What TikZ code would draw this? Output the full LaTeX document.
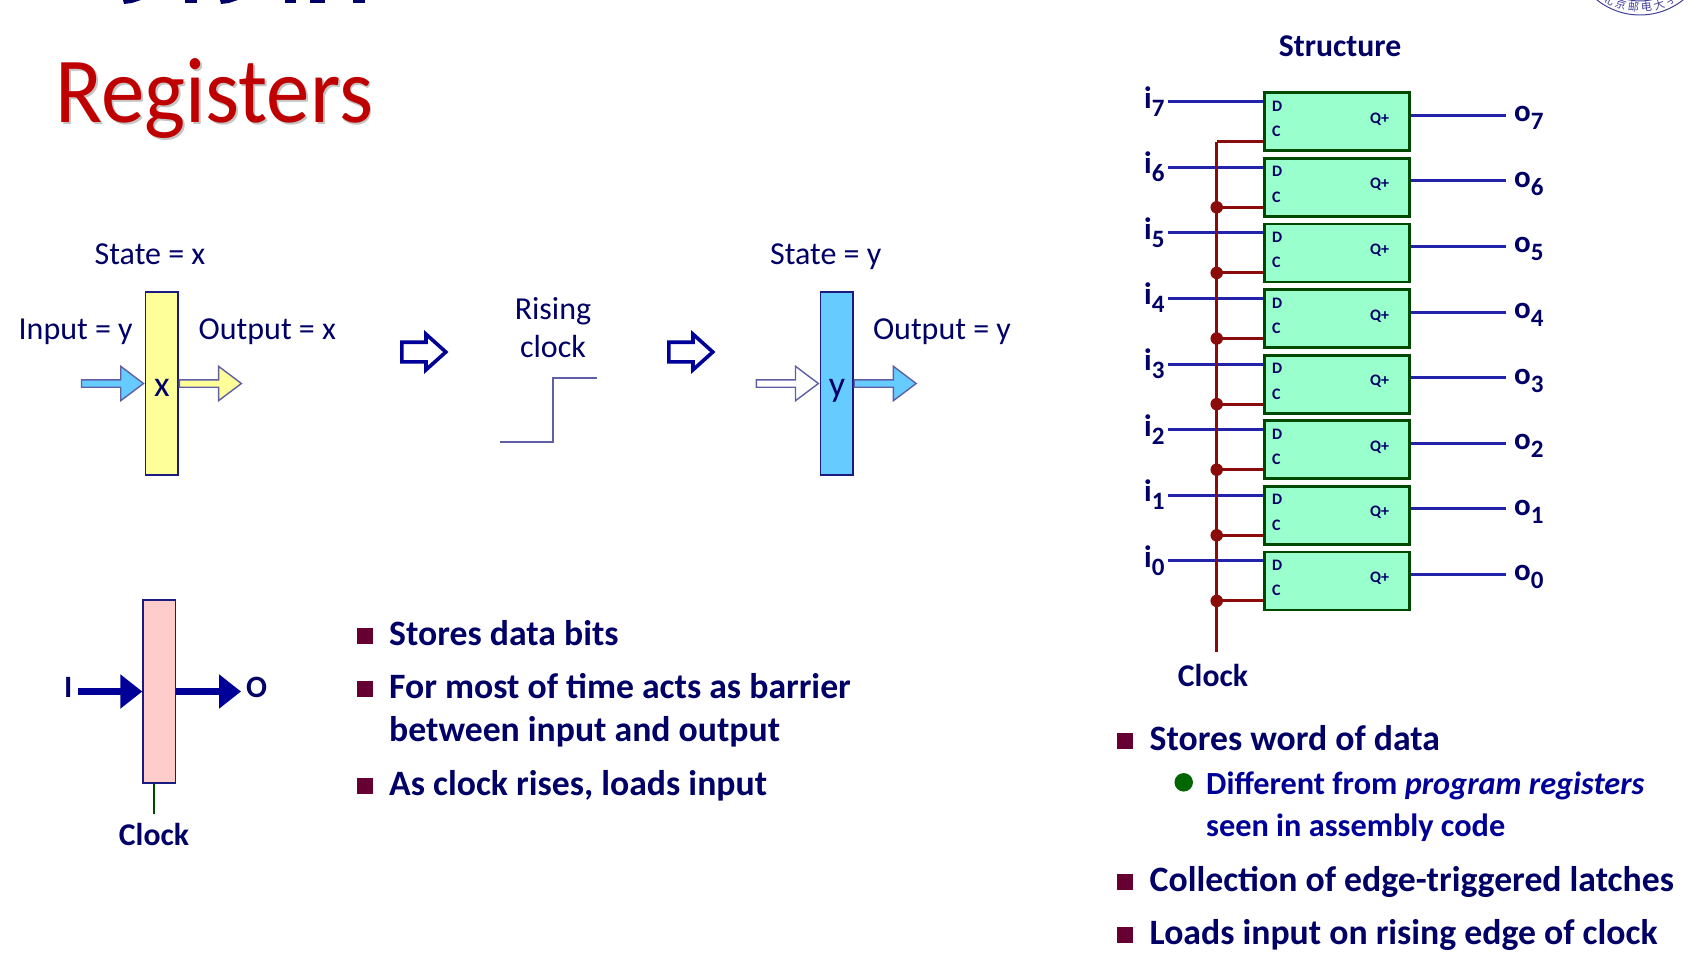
\documentclass[tikz,border=0pt]{standalone}
\usepackage{fontspec}
\setmainfont{Carlito}
\newfontfamily\logofont{Noto Sans CJK SC}
\usetikzlibrary{positioning,shapes.arrows,arrows.meta}
\definecolor{inknavy}{HTML}{000066}
\definecolor{inkblue}{HTML}{000099}
\definecolor{wireblue}{HTML}{2222AA}
\definecolor{barborder}{HTML}{1A1A80}
\definecolor{clockred}{HTML}{8B0A0A}
\definecolor{bulletred}{HTML}{660033}
\definecolor{regfill}{HTML}{99FFCC}
\definecolor{barblue}{HTML}{66CCFF}
\definecolor{baryellow}{HTML}{FFFF99}
\definecolor{barpink}{HTML}{FFCCCC}
\newcommand{\portname}[2]{#1\raisebox{-8pt}{\fontsize{25}{25}\selectfont #2}}

\begin{document}
\begin{tikzpicture}[
  x=1pt, y=-1pt,
  lab/.style={inner sep=0pt, anchor=base, text=inknavy, font=\fontsize{32}{38}\selectfont, align=center},
  hd/.style={inner sep=0pt, anchor=base, text=inknavy, font=\fontsize{31.7}{38}\selectfont\bfseries},
  port/.style={inner sep=0pt, anchor=base west, text=inknavy, font=\fontsize{31}{31}\selectfont\bfseries},
  pin/.style={inner sep=0pt, anchor=base west, text=inknavy, font=\fontsize{16}{16}\selectfont\bfseries},
  item/.style={inner sep=0pt, anchor=base west, text=inknavy, align=left, font=\fontsize{35.7}{43}\selectfont\bfseries},
  subitem/.style={inner sep=0pt, anchor=base west, text=inkblue, align=left, font=\fontsize{32.3}{42}\selectfont\bfseries},
  sq/.style={draw=none, fill=bulletred, minimum size=16pt, inner sep=0pt, anchor=south west},
  bar/.style={draw=barborder, line width=1.5pt, minimum width=32.5pt, minimum height=183pt, inner sep=0pt},
  reg/.style={draw=black!30!green!40!black, fill=regfill, line width=2.8pt, minimum width=145pt, minimum height=58pt, inner sep=0pt},
  dataline/.style={draw=wireblue, line width=3pt},
  clockline/.style={draw=clockred, line width=3pt},
  bitarrow/.style={single arrow, draw=barborder!70, line width=1.4pt, inner sep=3pt, minimum height=62pt,
    minimum width=33pt, single arrow head extend=13.5pt, single arrow tip angle=74},
  stepover/.style={single arrow, draw=inkblue, fill=white, line width=3.6pt, inner sep=8pt, minimum height=44pt,
    minimum width=32pt, single arrow head extend=8pt, single arrow tip angle=84, anchor=tail},
  fatarrow/.style={draw=inkblue, line width=6.5pt, -{Triangle[length=22pt,width=33pt]}},
]
\useasboundingbox (0,0) rectangle (1708,974);

% Cut off at the top edge
\begin{scope}
\clip (0,0) rectangle (1708,974);
\foreach \xa/\xb in {185/197,285/296,310/325,353/365} {
  \fill[inknavy] (\xa,0) rectangle (\xb,3);
}
\fill[inknavy] (123,0) -- (141,0) -- (132,3) -- (124,4) -- cycle;
\fill[inknavy] (220,0) -- (238,0) -- (229,3) -- (221,4) -- cycle;
\draw[draw=black!30!blue!50!gray, line width=1pt] (1640,-54) circle (69);
\draw[draw=black!30!blue!50!gray, line width=1pt] (1640,-54) circle (55);
\foreach \ang/\ch in {-30/北,-18/京,-6/邮,6/电,18/大,30/学} {
  \node[inner sep=0pt, text=black!30!blue!50!gray, rotate=\ang, font=\logofont\fontsize{11}{11}\selectfont]
    at ({1640+61.5*sin(\ang)},{-54+61.5*cos(\ang)}) {\ch};
}
\end{scope}

% Title
\node[inner sep=0pt, anchor=base west, text=black!45, opacity=0.5, font=\fontsize{93}{93}\selectfont] (titleshade) at (57.5,124) {\scalebox{0.935}[1]{Registers}};
\node[inner sep=0pt, anchor=base west, text=red!75!black, font=\fontsize{93}{93}\selectfont] (title) at (55.5,122) {\scalebox{0.935}[1]{Registers}};

% Before the edge
\node[bar, fill=baryellow] (xbar) at (161.7,383.5) {};
\node[lab, font=\fontsize{36}{38}\selectfont] (xval) at (162,396) {x};
\node[lab] (xstate) at (150,264) {State = x};
\node[lab] (xinput) at (75.7,339) {Input = y};
\node[lab] (xoutput) at (267.4,339) {Output = x};
\node[bitarrow, fill=barblue, anchor=tip] (xin) at (xbar.west) {};
\node[bitarrow, fill=baryellow, anchor=tail] (xout) at (xbar.east) {};

% Edge
\node[stepover] (stepa) at (400,352) {};
\node[lab] (rising) at (553,357) {Rising\\[0pt]clock};
\coordinate (stepstart) at (500,441.5);
\coordinate (stepend) at (597,378);
\draw[draw=barborder!70, line width=2pt] (stepstart) -| (553,378) -- (stepend);
\node[stepover] (stepb) at (667,352) {};

% After the edge
\node[bar, fill=barblue] (ybar) at (836.5,383.5) {};
\node[lab, font=\fontsize{36}{38}\selectfont] (yval) at (837,396) {y};
\node[lab] (ystate) at (825.7,264) {State = y};
\node[lab] (youtput) at (942,339) {Output = y};
\node[bitarrow, fill=white, anchor=tip] (yin) at (ybar.west) {};
\node[bitarrow, fill=barblue, anchor=tail] (yout) at (ybar.east) {};

% Register symbol
\node[bar, fill=barpink] (rbar) at (159.3,691.5) {};
\node[port] (ilab) at (64,697) {I};
\node[port] (olab) at (246,697) {O};
\coordinate (rin) at (78,691.5);
\coordinate (rout) at (241,691.5);
\draw[fatarrow] (rin) -- (rbar.west);
\draw[fatarrow] (rbar.east) -- (rout);
\node[hd] (rclock) at (154,845) {Clock};
\coordinate (rstub) at (154,814);
\draw[draw=black!30!green!40!black, line width=2pt] (rstub |- rbar.south) -- (rstub);

% Left bullets
\node[sq] (sqa) at (357,644) {};
\node[item] (itema) at (389,645) {Stores data bits};
\node[sq] (sqb) at (357,697) {};
\node[item] (itemb) at (389,698) {For most of time acts as barrier};
\node[item] (itemc) at (389,741.5) {between input and output};
\node[sq] (sqc) at (357,794) {};
\node[item] (itemd) at (389,795) {As clock rises, loads input};

% Structure
\node[hd] (structure) at (1340,57) {Structure};
\foreach \n in {7,...,0} {
  \pgfmathsetmacro{\ytop}{92.7+(7-\n)*65.6}
  \node[reg] (reg\n) at (1337,\ytop+29) {};
  \node[pin] (d\n) at (1272,\ytop+18.5) {D};
  \node[pin] (c\n) at (1272,\ytop+44) {C};
  \node[pin] (q\n) at (1370,\ytop+30.5) {Q+};
  \node[port] (inlab\n) at (1144,\ytop+15.3) {\portname{i}{\n}};
  \node[port] (outlab\n) at (1514,\ytop+29) {\portname{o}{\n}};
  \coordinate (in\n) at (1168,\ytop+9);
  \coordinate (out\n) at (1506,\ytop+22.6);
  \coordinate (clk\n) at (1216.7,\ytop+49);
  \draw[dataline] (in\n) -- (reg\n.west |- in\n);
  \draw[dataline] (reg\n.east |- out\n) -- (out\n);
  \draw[clockline] (clk\n) -- (reg\n.west |- clk\n);
}
\coordinate (clkend) at (1216.7,651.7);
\draw[clockline] (clk7) -- (clkend);
\foreach \n in {6,...,0} {
  \node[circle, fill=clockred, minimum size=12.5pt, inner sep=0pt] (dot\n) at (clk\n) {};
}
\node[hd] (clocklab) at (1213,686) {Clock};

% Right bullets
\node[sq] (sqd) at (1117,749) {};
\node[item] (iteme) at (1149.5,750) {Stores word of data};
\node[circle, fill=green!40!black, minimum size=18.5pt, inner sep=0pt] (dote) at (1183.7,782.3) {};
\node[subitem] (itemf) at (1206,794) {Different from \textit{program registers}};
\node[subitem] (itemg) at (1206,836) {seen in assembly code};
\node[sq] (sqe) at (1117,890) {};
\node[item] (itemh) at (1149.5,891) {Collection of edge-triggered latches};
\node[sq] (sqf) at (1117,943) {};
\node[item] (itemi) at (1149.5,944) {Loads input on rising edge of clock};
\end{tikzpicture}
\end{document}
